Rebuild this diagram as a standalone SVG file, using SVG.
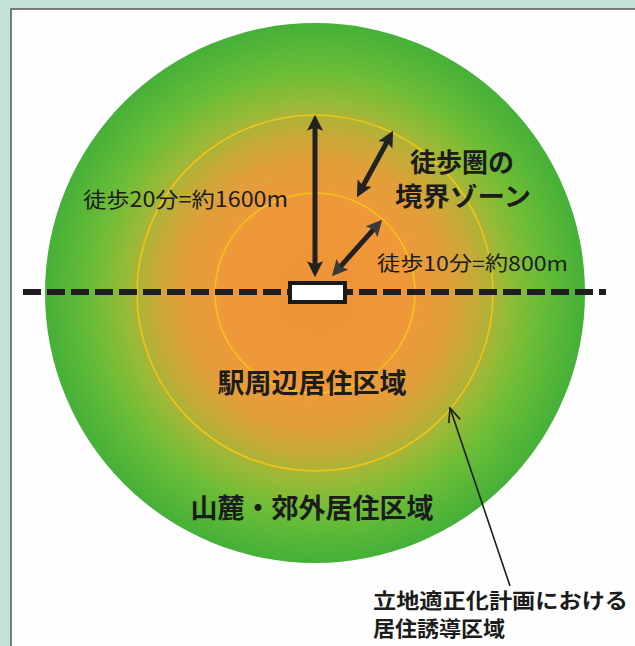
<svg xmlns="http://www.w3.org/2000/svg" width="635" height="646" viewBox="0 0 635 646">
  <style>
    .t { font-family: "Noto Sans CJK JP", "Noto Sans", sans-serif; fill: #1c1c1c; }
    .b { font-weight: 700; }
    .ring { fill: none; stroke: #f1c418; stroke-width: 1.6; }
    .arr { stroke: #222; stroke-width: 5; fill: none; }
  </style>
  <defs>
    <radialGradient id="g" cx="315" cy="293" r="270" gradientUnits="userSpaceOnUse">
      <stop offset="0" stop-color="#ef9336"/>
      <stop offset="0.35" stop-color="#ef983a"/>
      <stop offset="0.5" stop-color="#e09f3a"/>
      <stop offset="0.6" stop-color="#c4ab38"/>
      <stop offset="0.7" stop-color="#98ba36"/>
      <stop offset="0.82" stop-color="#6cbd37"/>
      <stop offset="1" stop-color="#45b038"/>
    </radialGradient>
    <marker id="ah" viewBox="0 0 10 10" markerUnits="userSpaceOnUse" markerWidth="16" markerHeight="16" refX="3" refY="5" orient="auto-start-reverse">
      <path d="M0,0 L10,5 L0,10 L2,5 z" fill="#222"/>
    </marker>
    <marker id="ah2" viewBox="0 0 10 10" markerUnits="userSpaceOnUse" markerWidth="16" markerHeight="16" refX="3" refY="5" orient="auto-start-reverse">
      <path d="M0,0 L10,5 L0,10 L2,5 z" fill="#3a3a3a"/>
    </marker>
    <marker id="open" viewBox="0 0 16 16" markerUnits="userSpaceOnUse" markerWidth="16" markerHeight="16" refX="15" refY="8" orient="auto">
      <path d="M1,2 L15,8 L1,14" fill="none" stroke="#1c1c1c" stroke-width="1.6"/>
    </marker>
  </defs>

  <!-- page background -->
  <rect x="0" y="0" width="635" height="646" fill="#c3e3d6"/>
  <rect x="11" y="9" width="624" height="637" fill="#fdfefd"/>
  <path d="M11,646 V9 H635" fill="none" stroke="#555" stroke-width="1.5"/>

  <!-- zones -->
  <g id="zone-outer">
    <circle cx="315" cy="293" r="270" fill="url(#g)"/>
  </g>
  <g id="ring-20min">
    <circle class="ring" cx="315" cy="293" r="178"/>
  </g>
  <g id="ring-10min">
    <circle class="ring" cx="315" cy="293" r="100"/>
  </g>

  <!-- railway line -->
  <g id="railway">
    <line x1="23" y1="292" x2="606" y2="292" stroke="#1e1e1e" stroke-width="6" stroke-dasharray="18 6"/>
  </g>

  <!-- station -->
  <g id="station">
    <rect x="290" y="283" width="55" height="19" fill="#ffffff" stroke="#1a1a1a" stroke-width="4"/>
  </g>

  <!-- connectors -->
  <g id="connectors">
    <line class="arr" x1="315" y1="126" x2="315" y2="266" marker-start="url(#ah)" marker-end="url(#ah)"/>
    <line class="arr" x1="387.7" y1="140.7" x2="362.3" y2="187.3" stroke-width="4" marker-start="url(#ah)" marker-end="url(#ah)"/>
    <line class="arr" x1="374.7" y1="228.2" x2="339.3" y2="267.8" stroke="#3a3a3a" stroke-width="4" marker-start="url(#ah2)" marker-end="url(#ah2)"/>
    <line x1="510" y1="586" x2="450" y2="408" stroke="#1c1c1c" stroke-width="1.6" marker-end="url(#open)"/>
  </g>

  <!-- labels -->
  <g id="label-20min">
    <text class="t" x="83" y="207" font-size="21" textLength="205" lengthAdjust="spacingAndGlyphs">徒歩20分=約1600m</text>
  </g>
  <g id="label-10min">
    <text class="t" x="377" y="271" font-size="20" textLength="191" lengthAdjust="spacingAndGlyphs">徒歩10分=約800m</text>
  </g>
  <g id="label-boundary">
    <text class="t b" x="462" y="172" font-size="26" text-anchor="middle">徒歩圏の</text>
    <text class="t b" x="463" y="206" font-size="26" text-anchor="middle" textLength="136" lengthAdjust="spacingAndGlyphs">境界ゾーン</text>
  </g>
  <g id="label-station-area">
    <text class="t b" x="312" y="393" font-size="27" text-anchor="middle">駅周辺居住区域</text>
  </g>
  <g id="label-suburb">
    <text class="t b" x="312" y="518" font-size="27" text-anchor="middle">山麓・郊外居住区域</text>
  </g>
  <g id="label-induction">
    <text class="t b" x="373" y="608" font-size="21" textLength="255" lengthAdjust="spacingAndGlyphs">立地適正化計画における</text>
    <text class="t b" x="373" y="636" font-size="21" textLength="132" lengthAdjust="spacingAndGlyphs">居住誘導区域</text>
  </g>
</svg>
